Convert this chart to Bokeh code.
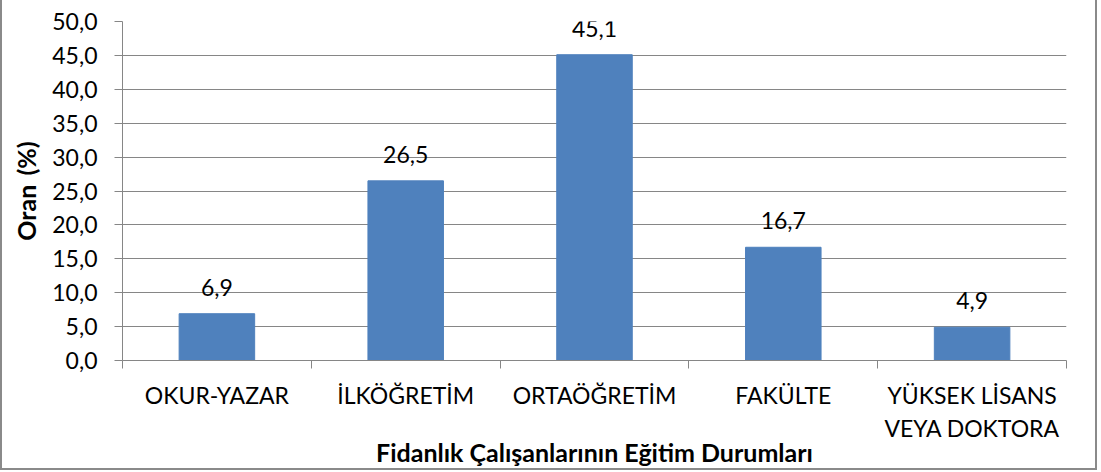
from bokeh.plotting import figure
from bokeh.models import FixedTicker, Range1d, ColumnDataSource, InlineStyleSheet
from bokeh.embed import file_html
from bokeh.resources import INLINE
from bokeh.core.properties import value

categories = ["OKUR-YAZAR", "İLKÖĞRETİM", "ORTAÖĞRETİM", "FAKÜLTE", "YÜKSEK LİSANS\nVEYA DOKTORA"]
values = [6.9, 26.5, 45.1, 16.7, 4.9]
y_ticks = [0, 5, 10, 15, 20, 25, 30, 35, 40, 45, 50]
y_tick_labels = ["0,0", "5,0", "10,0", "15,0", "20,0", "25,0", "30,0", "35,0", "40,0", "45,0", "50,0"]
x_title = "Fidanlık Çalışanlarının Eğitim Durumları"
y_title = "Oran\u00a0\u2009(%)"

FONT = "Lato"
GREY = "#868686"

n = len(categories)
xs = [i + 0.5 for i in range(n)]
labels = [f"{v:.1f}".replace(".", ",") for v in values]
src = ColumnDataSource(dict(x=xs, top=values, label=labels))

p = figure(width=1097, height=470, output_backend="svg", toolbar_location=None,
           x_range=Range1d(0, n), y_range=Range1d(0, 50),
           min_border_left=120, min_border_right=33, min_border_top=21, min_border_bottom=108)
p.stylesheets = [InlineStyleSheet(css=":host { box-sizing: border-box; border-left: 2px solid #8a8a8a; border-right: 2px solid #8a8a8a; border-bottom: 2px solid #8a8a8a; }")]
p.outline_line_color = None
p.background_fill_color = "white"
p.border_fill_color = "white"

p.vbar(x="x", top="top", width=0.4, bottom=0, source=src, fill_color="#4F81BD", line_color="#4F81BD")
p.text(x="x", y="top", text="label", source=src, text_align="center", text_baseline="bottom",
       y_offset=-18, text_font=value(FONT), text_font_size="23px", text_color="black")

# x axis
xa = p.xaxis[0]
xa.ticker = FixedTicker(ticks=xs, minor_ticks=list(range(n + 1)))
xa.major_label_overrides = {x: c for x, c in zip(xs, categories)}
xa.major_tick_out = 0
xa.major_tick_in = 0
xa.minor_tick_out = 8
xa.minor_tick_in = 0
xa.minor_tick_line_color = GREY
xa.axis_line_color = GREY
xa.major_label_text_font = FONT
xa.major_label_text_font_size = "23px"
xa.major_label_text_color = "black"
xa.major_label_standoff = 12
xa.axis_label = x_title
xa.axis_label_text_font = FONT
xa.axis_label_text_font_style = "bold"
xa.axis_label_text_font_size = "25px"
xa.axis_label_text_color = "black"
xa.axis_label_standoff = -8

# y axis
ya = p.yaxis[0]
ya.ticker = FixedTicker(ticks=y_ticks)
ya.major_label_overrides = {t: l for t, l in zip(y_ticks, y_tick_labels)}
ya.major_tick_out = 8
ya.major_tick_in = 0
ya.minor_tick_line_color = None
ya.major_tick_line_color = GREY
ya.axis_line_color = GREY
ya.major_label_text_font = FONT
ya.major_label_text_font_size = "23px"
ya.major_label_text_color = "black"
ya.major_label_standoff = 17
ya.axis_label = y_title
ya.axis_label_text_font = FONT
ya.axis_label_text_font_style = "bold"
ya.axis_label_text_font_size = "25px"
ya.axis_label_text_color = "black"
ya.axis_label_standoff = 8

p.xgrid.grid_line_color = None
p.ygrid.grid_line_color = GREY
p.ygrid.grid_line_width = 1

open("out.html", "w").write(file_html(p, INLINE))
